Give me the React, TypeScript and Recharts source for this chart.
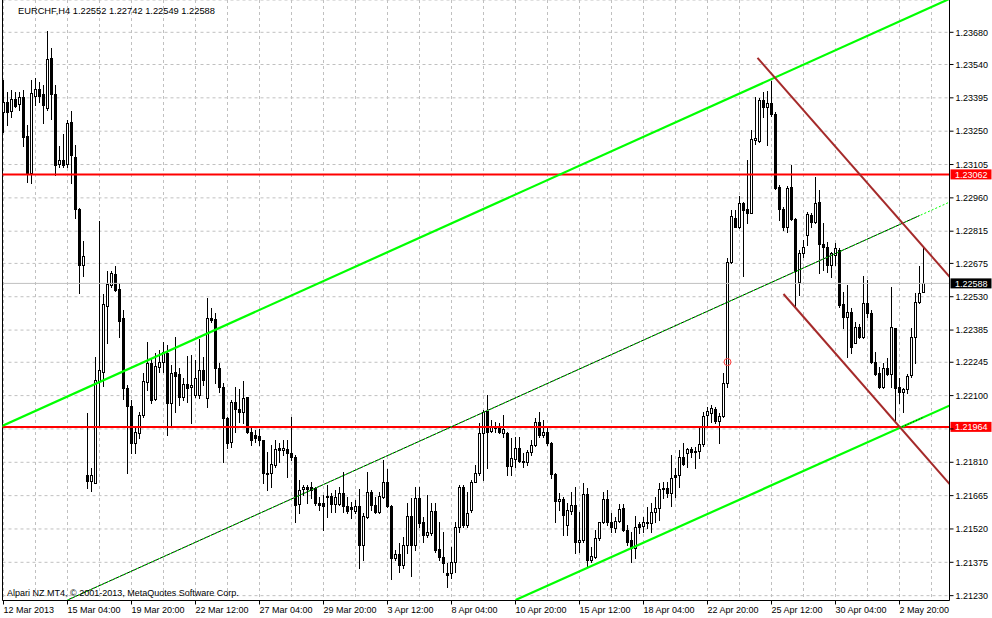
import React from 'react';
import {
  ComposedChart,
  XAxis,
  YAxis,
  CartesianGrid,
  Bar,
  ReferenceLine,
  ReferenceDot,
} from 'recharts';

const FONT = '"Liberation Sans", Arial, sans-serif';

const chartTitle = 'EURCHF,H4  1.22552 1.22742 1.22549 1.22588';
const brokerNote = 'Alpari NZ MT4, \u00a9 2001-2013, MetaQuotes Software Corp.';

// H4 candles, bar 0 = 12 Mar 2013 12:00
const opens = [
  1.23333, 1.23377, 1.23338, 1.2339, 1.23368, 1.23399, 1.23229, 1.23068, 1.23403, 1.23433,
  1.23412, 1.23351, 1.23568, 1.23412, 1.23107, 1.23125, 1.23107, 1.2329, 1.23138, 1.22912,
  1.22668, 1.21755, 1.21729, 1.2172, 1.22164, 1.22203, 1.2249, 1.22581, 1.22629, 1.22564,
  1.22438, 1.22133, 1.22055, 1.21894, 1.21937, 1.22016, 1.22159, 1.22242, 1.22085, 1.22224,
  1.22246, 1.22285, 1.22068, 1.22203, 1.22194, 1.22094, 1.2215, 1.22137, 1.22103, 1.22103,
  1.22211, 1.2209, 1.22438, 1.22433, 1.2222, 1.22137, 1.22003, 1.21898, 1.22072, 1.22042,
  1.22029, 1.22094, 1.21942, 1.21929, 1.21924, 1.21907, 1.21763, 1.21763, 1.21798, 1.21872,
  1.21863, 1.21868, 1.2185, 1.21833, 1.21629, 1.21694, 1.21703, 1.21703, 1.21698, 1.21633,
  1.21633, 1.21663, 1.21663, 1.21629, 1.21629, 1.21676, 1.2162, 1.21616, 1.21598, 1.2162,
  1.2145, 1.21572, 1.21681, 1.21624, 1.21594, 1.21659, 1.21724, 1.2162, 1.21394, 1.21411,
  1.21363, 1.2145, 1.21576, 1.2145, 1.21655, 1.2155, 1.21494, 1.21502, 1.21598, 1.21433,
  1.21398, 1.21329, 1.21329, 1.21376, 1.21529, 1.21703, 1.21537, 1.21603, 1.21724, 1.21763,
  1.21937, 1.22033, 1.21946, 1.21963, 1.21963, 1.21937, 1.21937, 1.21794, 1.21824, 1.21872,
  1.21816, 1.21811, 1.21855, 1.21885, 1.21985, 1.21929, 1.21942, 1.21894, 1.21759, 1.21642,
  1.2165, 1.21537, 1.21598, 1.21624, 1.21463, 1.21472, 1.21672, 1.21385, 1.21398, 1.21481,
  1.2155, 1.2165, 1.2155, 1.21524, 1.21555, 1.21611, 1.21516, 1.21472, 1.21437, 1.21542,
  1.21533, 1.21546, 1.21546, 1.21594, 1.21611, 1.21694, 1.21698, 1.21676, 1.21755, 1.21755,
  1.21833, 1.2185, 1.21868, 1.21855, 1.21859, 1.2189, 1.22016, 1.22024, 1.22042, 1.2199,
  1.22011, 1.22155, 1.22681, 1.22872, 1.22833, 1.22938, 1.22912, 1.22894, 1.23212, 1.23207,
  1.23386, 1.23355, 1.23373, 1.23325, 1.23007, 1.22912, 1.22833, 1.23007, 1.22868, 1.22594,
  1.2272, 1.22798, 1.22885, 1.22855, 1.22942, 1.22759, 1.22746, 1.22668, 1.22712, 1.22733,
  1.22498, 1.22442, 1.22464, 1.22329, 1.22398, 1.22355, 1.22503, 1.22459, 1.22246, 1.22198,
  1.22137, 1.2222, 1.22194, 1.22394, 1.22137, 1.22116, 1.22129, 1.2219, 1.22355, 1.22507,
  1.22552,
];

const highs = [
  1.23473, 1.2342, 1.23429, 1.2342, 1.2342, 1.23429, 1.23277, 1.23473, 1.23481, 1.23464,
  1.23451, 1.23686, 1.23612, 1.23451, 1.23186, 1.23238, 1.23299, 1.23338, 1.2319, 1.22916,
  1.22772, 1.22024, 1.21785, 1.22268, 1.22859, 1.22542, 1.22642, 1.22642, 1.22664, 1.2259,
  1.22472, 1.22146, 1.22081, 1.21959, 1.22029, 1.22198, 1.22333, 1.22264, 1.22285, 1.22298,
  1.22333, 1.2232, 1.22233, 1.22355, 1.2222, 1.22177, 1.22272, 1.22277, 1.22255, 1.22346,
  1.22268, 1.22525, 1.22481, 1.22459, 1.22242, 1.22155, 1.22007, 1.22081, 1.22137, 1.22129,
  1.22164, 1.22094, 1.21959, 1.2195, 1.21955, 1.21907, 1.21855, 1.21885, 1.21907, 1.21894,
  1.21907, 1.21907, 1.22007, 1.21842, 1.21733, 1.21711, 1.21711, 1.21724, 1.21703, 1.21659,
  1.21668, 1.21711, 1.21676, 1.21689, 1.21703, 1.21768, 1.21659, 1.21637, 1.21646, 1.21694,
  1.21589, 1.21768, 1.21689, 1.21659, 1.21681, 1.2182, 1.21781, 1.21624, 1.21429, 1.21459,
  1.21485, 1.21633, 1.21655, 1.21703, 1.21703, 1.21572, 1.21668, 1.21633, 1.21633, 1.2155,
  1.21507, 1.21372, 1.21442, 1.2155, 1.21711, 1.21711, 1.21681, 1.21733, 1.21798, 1.21981,
  1.22037, 1.22103, 1.21994, 1.21985, 1.21981, 1.22016, 1.21942, 1.21916, 1.2192, 1.2192,
  1.2185, 1.21863, 1.21907, 1.22003, 1.22029, 1.21994, 1.21959, 1.21898, 1.21763, 1.21676,
  1.21659, 1.21633, 1.21681, 1.21703, 1.21594, 1.2172, 1.21698, 1.21442, 1.21516, 1.2155,
  1.21681, 1.21689, 1.21589, 1.21572, 1.21629, 1.21629, 1.21537, 1.21507, 1.21576, 1.2155,
  1.21572, 1.21616, 1.21633, 1.21659, 1.2172, 1.21724, 1.21724, 1.21842, 1.21785, 1.21863,
  1.21894, 1.21872, 1.21877, 1.21877, 1.21959, 1.22029, 1.2205, 1.22059, 1.2205, 1.22024,
  1.22198, 1.22698, 1.22907, 1.22907, 1.22968, 1.22942, 1.23125, 1.23255, 1.23399, 1.23394,
  1.2342, 1.23425, 1.23468, 1.23333, 1.23016, 1.2292, 1.23012, 1.23103, 1.22872, 1.22733,
  1.22777, 1.22899, 1.22894, 1.23051, 1.22994, 1.22851, 1.22768, 1.22725, 1.22764, 1.22742,
  1.22551, 1.22581, 1.22481, 1.2242, 1.22411, 1.2262, 1.22603, 1.22472, 1.2229, 1.22224,
  1.22242, 1.22264, 1.22572, 1.22394, 1.22177, 1.22133, 1.22194, 1.22394, 1.22546, 1.22664,
  1.22742,
];

const lows = [
  1.23246, 1.23277, 1.23312, 1.23355, 1.23342, 1.23186, 1.23029, 1.23025, 1.23364, 1.23377,
  1.23286, 1.23342, 1.23303, 1.23059, 1.23094, 1.23094, 1.23094, 1.23025, 1.22872, 1.22546,
  1.2262, 1.21698, 1.21685, 1.2172, 1.21968, 1.22142, 1.22329, 1.22572, 1.22555, 1.22355,
  1.22085, 1.21763, 1.2185, 1.2185, 1.21916, 1.22007, 1.22124, 1.22068, 1.22081, 1.22203,
  1.22203, 1.21929, 1.21972, 1.22029, 1.22059, 1.22081, 1.22072, 1.21981, 1.22094, 1.2209,
  1.22146, 1.2205, 1.2242, 1.22155, 1.22116, 1.21811, 1.21872, 1.21877, 1.21942, 1.21985,
  1.21981, 1.21937, 1.21885, 1.21898, 1.21885, 1.2172, 1.21689, 1.21703, 1.2179, 1.21811,
  1.21842, 1.21746, 1.2182, 1.2155, 1.21589, 1.21668, 1.21633, 1.21655, 1.21624, 1.21603,
  1.21516, 1.21572, 1.21594, 1.21594, 1.21624, 1.21594, 1.21589, 1.21568, 1.21589, 1.2135,
  1.21385, 1.21568, 1.21603, 1.21589, 1.21589, 1.21655, 1.21616, 1.21302, 1.21385, 1.21333,
  1.2135, 1.21416, 1.21315, 1.21429, 1.21529, 1.21463, 1.21485, 1.21494, 1.2142, 1.21385,
  1.21333, 1.21268, 1.21307, 1.21333, 1.21507, 1.21529, 1.21529, 1.21594, 1.21724, 1.21755,
  1.21733, 1.21785, 1.21942, 1.21942, 1.21937, 1.2192, 1.21755, 1.21755, 1.2179, 1.21811,
  1.2179, 1.21798, 1.21842, 1.21881, 1.2192, 1.2192, 1.21885, 1.21742, 1.2155, 1.21603,
  1.21494, 1.21494, 1.21585, 1.21416, 1.2142, 1.21463, 1.21355, 1.21376, 1.21394, 1.21472,
  1.21546, 1.21537, 1.21507, 1.21507, 1.2155, 1.21511, 1.2145, 1.21376, 1.21394, 1.21502,
  1.21507, 1.21524, 1.21507, 1.2155, 1.21559, 1.21655, 1.21659, 1.2162, 1.21659, 1.21703,
  1.21798, 1.2179, 1.21833, 1.21785, 1.21829, 1.21881, 1.21972, 1.21985, 1.21981, 1.21894,
  1.22007, 1.22137, 1.22677, 1.22833, 1.22829, 1.2262, 1.22851, 1.22894, 1.23194, 1.23203,
  1.23312, 1.2319, 1.23316, 1.22999, 1.22864, 1.2282, 1.22812, 1.22864, 1.22485, 1.22538,
  1.22703, 1.22755, 1.22833, 1.22851, 1.22633, 1.22646, 1.22638, 1.22616, 1.22668, 1.22485,
  1.22394, 1.22268, 1.22285, 1.22329, 1.22351, 1.22351, 1.22442, 1.22242, 1.2219, 1.22133,
  1.22133, 1.2219, 1.22137, 1.21994, 1.22068, 1.22029, 1.22111, 1.22181, 1.22242, 1.22503,
  1.22549,
];

const closes = [
  1.23377, 1.23333, 1.2339, 1.2336, 1.23399, 1.23225, 1.23068, 1.23416, 1.23433, 1.23403,
  1.23364, 1.23564, 1.23412, 1.23103, 1.23125, 1.23103, 1.23286, 1.23146, 1.22912, 1.22668,
  1.22707, 1.21729, 1.21755, 1.22168, 1.22211, 1.22498, 1.22585, 1.22633, 1.22559, 1.22424,
  1.22133, 1.22055, 1.21894, 1.21942, 1.22016, 1.22164, 1.22242, 1.22081, 1.22229, 1.22246,
  1.2229, 1.22068, 1.22198, 1.22185, 1.22094, 1.2215, 1.22133, 1.22146, 1.22177, 1.22211,
  1.22168, 1.22438, 1.22429, 1.2222, 1.22137, 1.22003, 1.21894, 1.22072, 1.22042, 1.22029,
  1.2209, 1.21942, 1.21907, 1.21916, 1.21907, 1.21763, 1.21759, 1.21803, 1.21868, 1.21863,
  1.21872, 1.2185, 1.21833, 1.21624, 1.21689, 1.21703, 1.21694, 1.21689, 1.21633, 1.21624,
  1.2162, 1.21659, 1.21629, 1.21659, 1.21676, 1.2162, 1.21598, 1.21607, 1.2162, 1.2145,
  1.21576, 1.21681, 1.21624, 1.21594, 1.21663, 1.21724, 1.2162, 1.21394, 1.21411, 1.21363,
  1.2145, 1.21576, 1.2145, 1.21655, 1.21546, 1.21494, 1.21507, 1.21598, 1.21429, 1.21398,
  1.21372, 1.2132, 1.21376, 1.21529, 1.21703, 1.21537, 1.21589, 1.21724, 1.21763, 1.21937,
  1.22029, 1.21942, 1.21963, 1.21959, 1.21942, 1.21955, 1.21794, 1.21829, 1.21872, 1.21816,
  1.21811, 1.21855, 1.21885, 1.21985, 1.21929, 1.21942, 1.21894, 1.21759, 1.21642, 1.2165,
  1.21581, 1.21603, 1.21624, 1.21463, 1.21472, 1.21672, 1.21385, 1.21402, 1.21481, 1.2155,
  1.2165, 1.2155, 1.21529, 1.21555, 1.21607, 1.21516, 1.21463, 1.21437, 1.21529, 1.21529,
  1.2155, 1.2155, 1.21594, 1.21611, 1.21694, 1.21698, 1.21676, 1.21742, 1.21746, 1.21833,
  1.21803, 1.21868, 1.21855, 1.21859, 1.2189, 1.22011, 1.22033, 1.22046, 1.2199, 1.22011,
  1.22155, 1.22681, 1.22881, 1.22833, 1.22938, 1.22907, 1.22894, 1.23216, 1.2322, 1.23386,
  1.23355, 1.23373, 1.23325, 1.23003, 1.22912, 1.22833, 1.23003, 1.22868, 1.22642, 1.2272,
  1.22746, 1.2289, 1.22855, 1.22938, 1.22759, 1.22746, 1.22668, 1.2272, 1.22742, 1.22494,
  1.22442, 1.22464, 1.22311, 1.22398, 1.22355, 1.22503, 1.22459, 1.22246, 1.22194, 1.22137,
  1.2222, 1.22194, 1.22398, 1.22133, 1.22116, 1.22129, 1.22185, 1.22355, 1.22507, 1.22546,
  1.22588,
];

const dateTickBars = [0, 16, 32, 48, 64, 80, 96, 112, 128, 144, 160, 176, 192, 208, 224];
const dateTickLabels = [
  '12 Mar 2013', '15 Mar 04:00', '19 Mar 20:00', '22 Mar 12:00', '27 Mar 04:00',
  '29 Mar 20:00', '3 Apr 12:00', '8 Apr 04:00', '10 Apr 20:00', '15 Apr 12:00',
  '18 Apr 04:00', '22 Apr 20:00', '25 Apr 12:00', '30 Apr 04:00', '2 May 20:00',
];
const gridBars = [
  0, 8, 16, 24, 32, 40, 48, 56, 64, 72, 80, 88, 96, 104, 112, 120, 128, 136, 144, 152, 160,
  168, 176, 184, 192, 200, 208, 216, 224, 232,
];
const priceTicks = [
  1.2123, 1.21375, 1.2152, 1.21665, 1.2181, 1.21955, 1.221, 1.22245, 1.22385, 1.2253,
  1.22675, 1.22815, 1.2296, 1.23105, 1.2325, 1.23395, 1.2354, 1.2368,
];

const resistanceLevel = 1.23062;
const supportLevel = 1.21964;
const bidLevel = 1.22588;
const signalBar = 181;
const signalPrice = 1.22246;

// trend line anchors: [bar, price]
const upperChannel = [[-1, 1.21963], [240, 1.23853]];
const lowerChannel = [[128, 1.21211], [240, 1.22084]];
const midChannel = [[16, 1.21211], [240, 1.22969]];
const midChannelSolid = [[16, 1.21211], [229, 1.22883]];
const lowerChannelDots = [[224, 1.21959], [230, 1.22006]];
const fallUpper = [[188.5, 1.23569], [240, 1.22548]];
const fallLower = [[195, 1.22542], [240, 1.21646]];

const rows = opens.map((o, i) => ({
  bar: i,
  range: [lows[i], highs[i]],
  open: o,
  high: highs[i],
  low: lows[i],
  close: closes[i],
}));

const seg = (pts: number[][]) => pts.map(([x, y]) => ({ x, y }));

const Candle = (props: any) => {
  const { x, y, width, height, payload } = props;
  if (!payload || x == null || y == null) return null;
  const cx = Math.round(x + (width || 0) / 2 - 0.5) + 0.5;
  const top = Math.min(y, y + height);
  const bot = Math.max(y, y + height);
  const span = payload.high - payload.low;
  const py = (p: number) => (span > 0 ? top + ((payload.high - p) / span) * (bot - top) : top);
  const yo = py(payload.open);
  const yc = py(payload.close);
  const bTop = Math.round(Math.min(yo, yc)) + 0.5;
  const bBot = Math.round(Math.max(yo, yc)) + 0.5;
  const up = payload.close >= payload.open;
  return (
    <g>
      <line x1={cx} x2={cx} y1={Math.round(top)} y2={Math.round(bot) + 1} stroke="#000" strokeWidth={1} />
      {bBot - bTop < 1 ? (
        <line x1={cx - 1.5} x2={cx + 1.5} y1={bTop} y2={bTop} stroke="#000" strokeWidth={1} />
      ) : (
        <rect x={cx - 1} y={bTop} width={2} height={bBot - bTop} fill={up ? '#fff' : '#000'} stroke="#000" strokeWidth={1} />
      )}
    </g>
  );
};

const DateTick = (props: any) => {
  const { x, y, payload } = props;
  const idx = dateTickBars.indexOf(payload.value);
  if (idx < 0) return null;
  const px = Math.round(x - 0.5) + 0.5;
  return (
    <g>
      <line x1={px} x2={px} y1={y} y2={y + 4} stroke="#000" />
      <text x={px} y={y + 12.5} fontSize={9} fontFamily={FONT} fill="#000">
        {dateTickLabels[idx]}
      </text>
    </g>
  );
};

const PriceTick = (props: any) => {
  const { x, y, payload } = props;
  if (Math.abs(payload.value - supportLevel) < 0.0002) return null;
  return (
    <text x={x} y={y + 3.2} fontSize={9} fontFamily={FONT} fill="#000">
      {Number(payload.value).toFixed(5)}
    </text>
  );
};

const priceTag = (price: number, bg: string) => (props: any) => {
  const vb = props.viewBox || {};
  const left = vb.x + vb.width + 1;
  return (
    <g>
      <rect x={left} y={vb.y - 5} width={41} height={10} fill={bg} />
      <text x={left + 4.5} y={vb.y + 3.3} fontSize={9} fontFamily={FONT} fill="#fff">
        {price.toFixed(5)}
      </text>
    </g>
  );
};

export default function App() {
  return (
    <div style={{ position: 'absolute', left: 0, top: 0, width: 992, height: 618, background: '#fff' }}>
      <ComposedChart
        width={992}
        height={618}
        data={rows}
        margin={{ top: 0, right: 0, bottom: 0, left: 2.5 }}
      >
        <CartesianGrid stroke="#c0c0c0" strokeDasharray="3 3" />
        <XAxis
          type="number"
          dataKey="bar"
          domain={[-0.25, 236.5]}
          allowDataOverflow
          ticks={gridBars}
          interval={0}
          height={17.5}
          tickSize={0}
          tickMargin={0}
          tickLine={false}
          axisLine={{ stroke: '#000' }}
          tick={DateTick}
        />
        <YAxis
          type="number"
          orientation="right"
          domain={[1.212089, 1.238205]}
          allowDataOverflow
          ticks={priceTicks}
          interval={0}
          width={42.5}
          tickSize={4}
          tickMargin={2}
          tickLine={{ stroke: '#000' }}
          axisLine={{ stroke: '#000' }}
          tick={PriceTick}
        />
        <ReferenceLine y={bidLevel} stroke="#c0c0c0" strokeWidth={1} label={priceTag(bidLevel, '#000')} />
        <Bar dataKey="range" barSize={3} shape={Candle} isAnimationActive={false} />
        <ReferenceLine x={-0.25} stroke="#000" ifOverflow="visible" />
        <ReferenceLine y={resistanceLevel} stroke="#ff0000" strokeWidth={2} label={priceTag(resistanceLevel, '#ff0000')} />
        <ReferenceLine y={supportLevel} stroke="#ff0000" strokeWidth={2} label={priceTag(supportLevel, '#ff0000')} />
        <ReferenceLine segment={seg(midChannelSolid)} stroke="#000" strokeWidth={1} ifOverflow="hidden" />
        <ReferenceLine segment={seg(midChannel)} stroke="#00ff00" strokeWidth={1} strokeDasharray="2 2" ifOverflow="hidden" />
        <ReferenceLine segment={seg(upperChannel)} stroke="#00ff00" strokeWidth={2.2} ifOverflow="hidden" />
        <ReferenceLine segment={seg(lowerChannel)} stroke="#00ff00" strokeWidth={2.2} ifOverflow="hidden" />
        <ReferenceLine segment={seg(lowerChannelDots)} stroke="#000" strokeWidth={1} strokeDasharray="1 2" ifOverflow="hidden" />
        <ReferenceLine segment={seg(fallUpper)} stroke="#a52a2a" strokeWidth={2} ifOverflow="hidden" />
        <ReferenceLine segment={seg(fallLower)} stroke="#a52a2a" strokeWidth={2} ifOverflow="hidden" />
        <ReferenceDot x={signalBar} y={signalPrice} r={3.5} fill="none" stroke="#ff4040" strokeWidth={1} />
      </ComposedChart>
      <svg
        width={992}
        height={618}
        style={{ position: 'absolute', left: 0, top: 0, pointerEvents: 'none' }}
      >
        <text x={18} y={14} fontSize={9.3} fontFamily={FONT} fill="#000">
          {chartTitle}
        </text>
        <text x={7} y={596} fontSize={9} fontFamily={FONT} fill="#000">
          {brokerNote}
        </text>
      </svg>
    </div>
  );
}
